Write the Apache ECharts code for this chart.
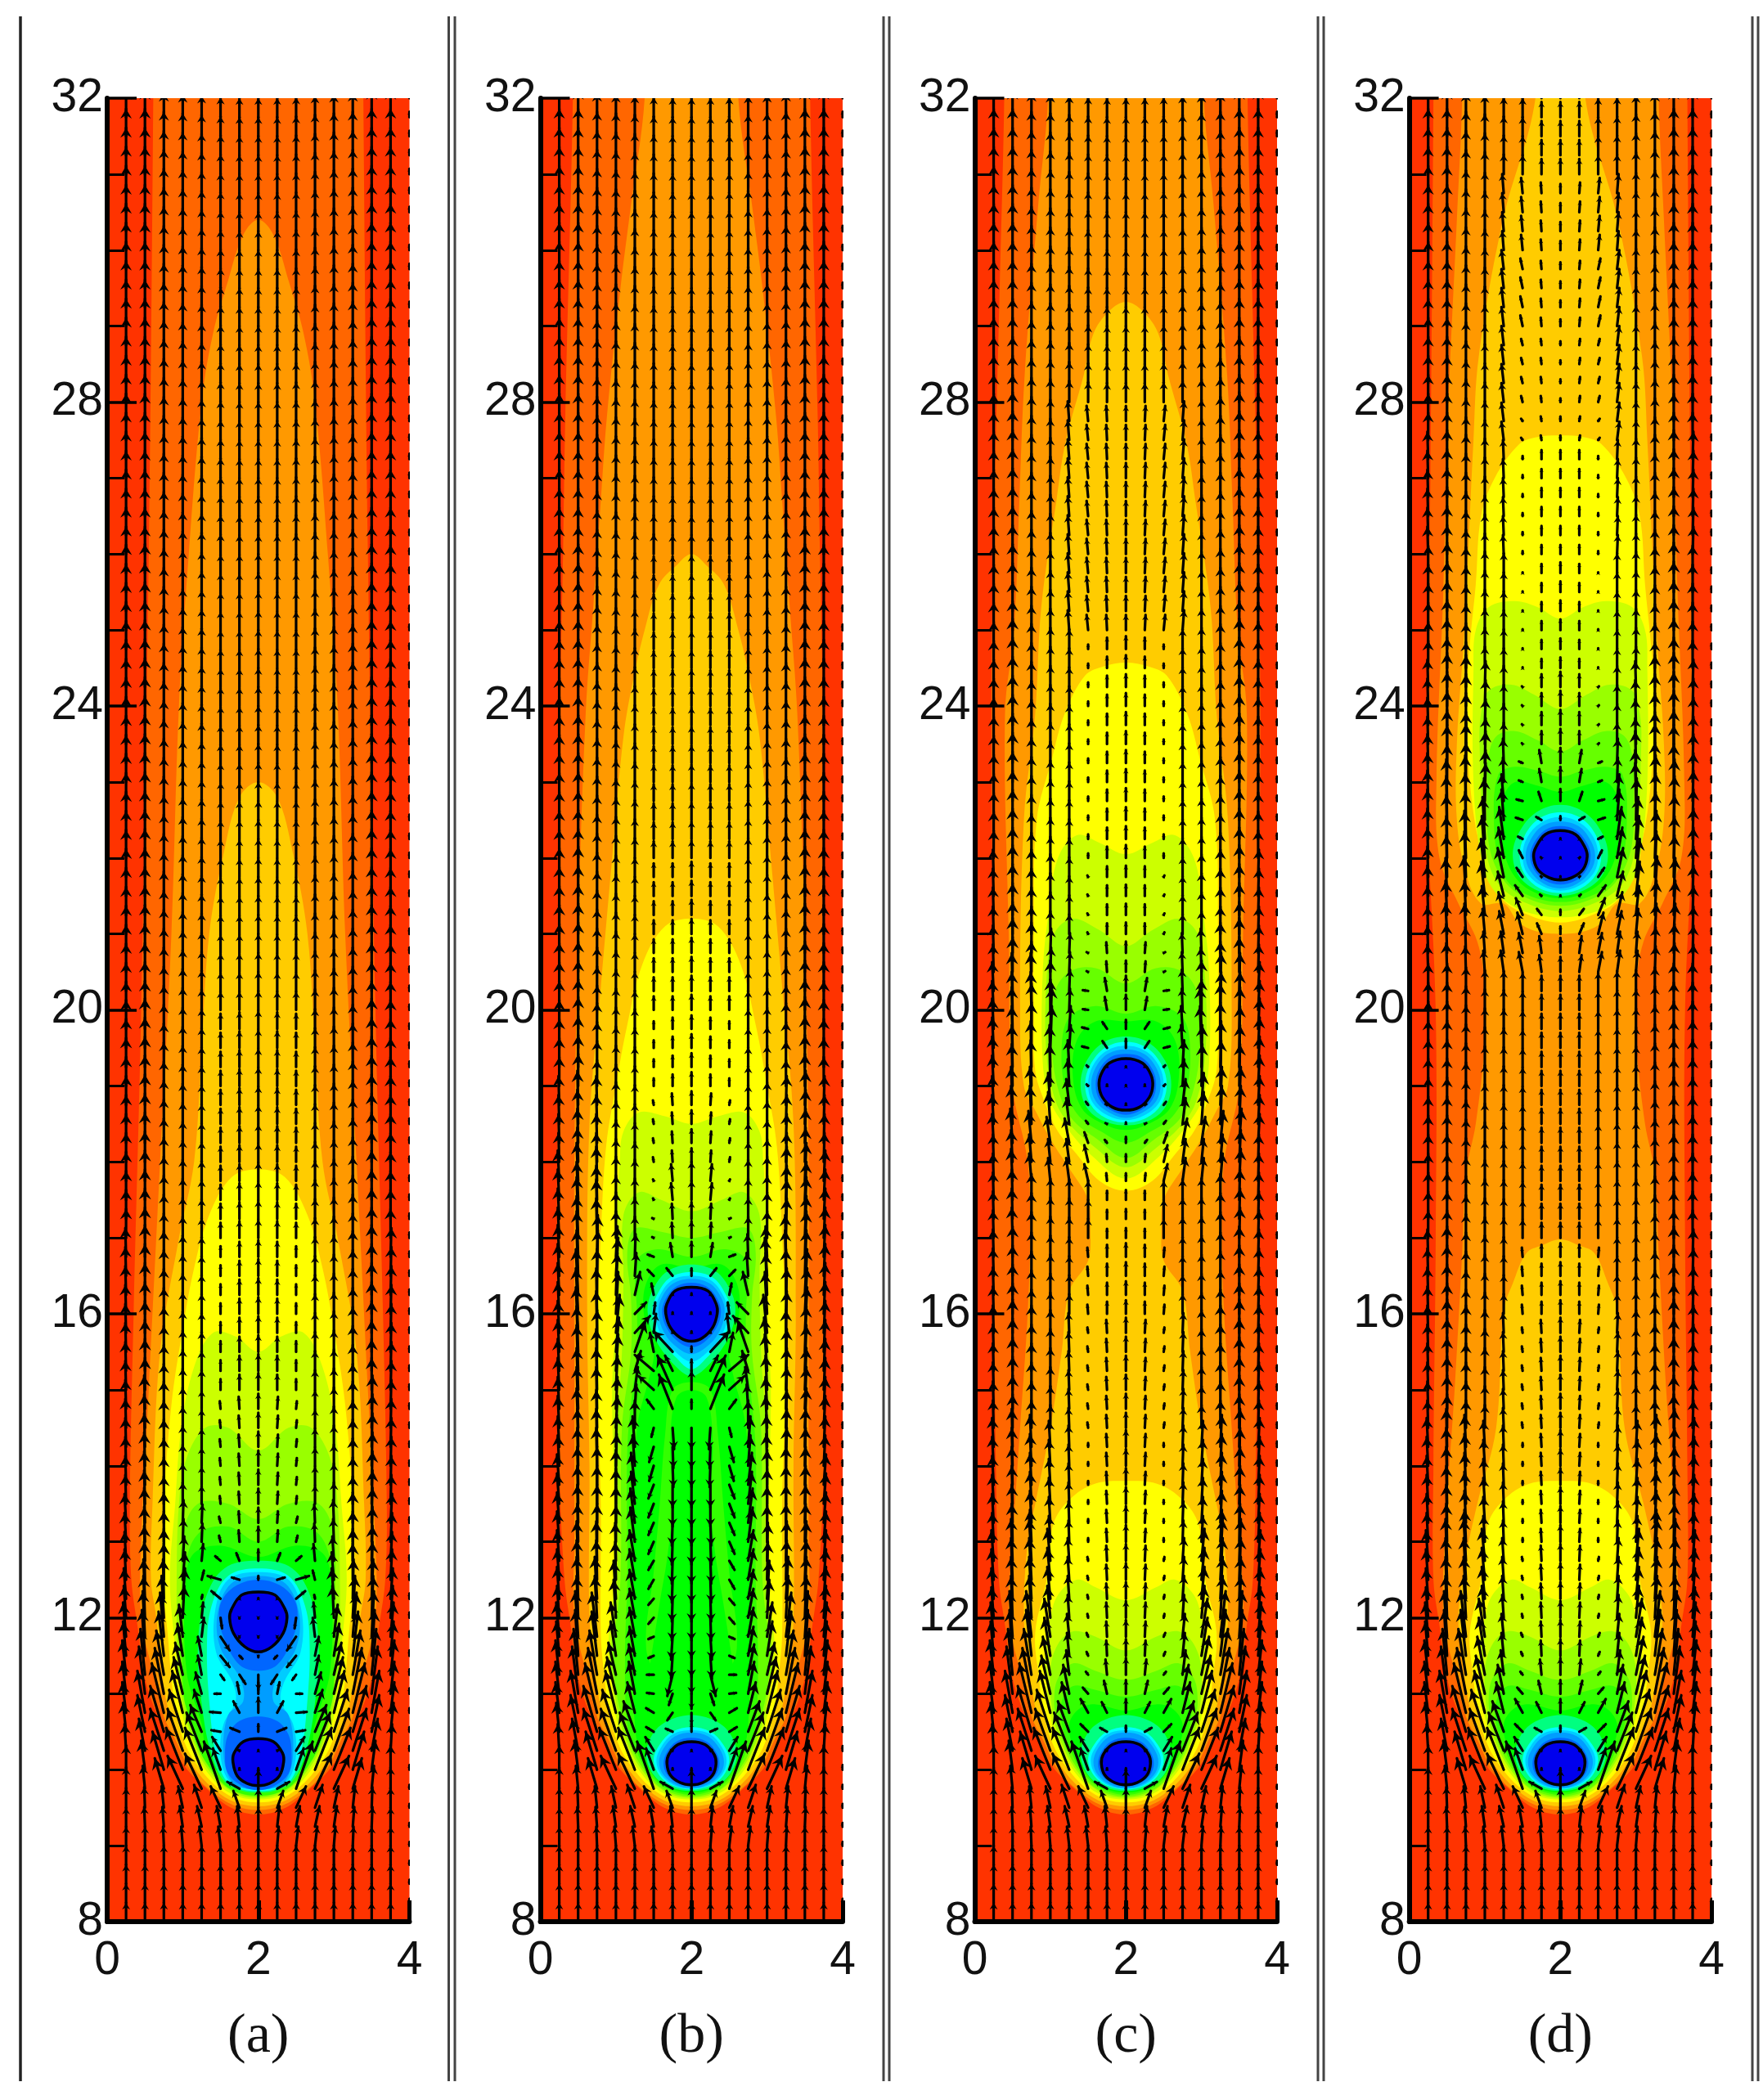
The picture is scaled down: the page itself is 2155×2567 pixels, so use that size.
<!DOCTYPE html>
<html><head><meta charset="utf-8"><style>html,body{margin:0;padding:0;background:#fff}#c{width:2155px;height:2567px}</style>
<script src="https://cdn.jsdelivr.net/npm/echarts@6/dist/echarts.min.js"></script></head><body><div id="c"></div>
<script>
const levelColors=['#ff3300','#ff6600','#ff9900','#ffcc00','#ffff00','#ccff00','#99ff00','#66ff00','#33ff00','#00ff00','#00ff80','#00ffff','#009dff','#0066ff','#0000ee','#00ccff'];
const panelLabels=['(a)','(b)','(c)','(d)'];
const xTicks=[0,2,4];
const yTicks=[8,12,16,20,24,28,32];
// Contour outlines: right half as dx from the centreline, y  (flat pairs, top centre to bottom centre)
const tail1=[1.68,12.5,1.6,11.9,1.5,11.2,1.33,10.7,1.2,10.46,.98,10.05,.65,9.72,.36,9.5,0,9.41];
const tail2=[1.55,12,1.4,11.3,1.25,10.7,1.1,10.4,.9,10,.6,9.7,.32,9.53,0,9.47];
const tail3=[1.35,12,1.28,11.3,1.17,10.7,1.03,10.35,.83,10,.56,9.72,.3,9.57,0,9.52];
const tail4=[1.2,11.8,1.15,11.2,1.08,10.7,.95,10.3,.76,10,.52,9.75,.27,9.61,0,9.57];
const tail5=[1.1,11.6,1.05,11.1,1,10.7,.88,10.3,.7,10,.48,9.76,.25,9.64,0,9.61];
const tail6=[1.07,11.5,1.03,11.1,.96,10.7,.83,10.3,.66,10,.45,9.78,.23,9.66,0,9.63];
const tail7=[1.04,11.5,.99,11,.92,10.7,.8,10.3,.63,10,.43,9.78,.22,9.68,0,9.65];
const tail8=[.85,10.6,.75,10.3,.6,10,.41,9.8,.2,9.7,0,9.67];
const tail9=[.75,10.6,.7,10.3,.56,10,.38,9.8,.18,9.72,0,9.7];
const lowYellow=[0,13.8,.45,13.75,.8,13.5,.97,13.2,1.05,12.5,...tail4];
const low5=[0,12.23,.4,12.4,.65,12.5,.9,12.3,1,12,1.07,11.6,1.05,11.1,1,10.7,.88,10.3,.7,10,.48,9.76,.25,9.64,0,9.61];
const low6=[0,11.57,.4,11.75,.7,11.82,.9,11.65,1,11.3,.96,10.7,.83,10.3,.66,10,.45,9.78,.23,9.66,0,9.63];
const low7=[0,11.18,.4,11.3,.7,11.4,.9,11.2,.95,10.9,.92,10.7,.8,10.3,.63,10,.43,9.78,.22,9.68,0,9.65];
const low8=[0,10.96,.4,11.05,.7,11.1,.85,10.9,...tail8];
const low9=[0,10.78,.4,10.86,.62,10.8,.75,10.6,.7,10.3,.56,10,.38,9.8,.18,9.72,0,9.7];
const lowMint=[0,10.72,.3,10.65,.5,10.49,.6,10.2,.5,9.93,.3,9.78,0,9.72];
const lowCyan=[0,10.56,.25,10.5,.42,10.33,.5,10.13,.42,9.92,.25,9.79,0,9.74];
const lowSky=[0,10.52,.24,10.47,.4,10.3,.465,10.12,.4,9.93,.22,9.79,0,9.75];
const lowBlue2=[0,10.49,.22,10.44,.37,10.28,.43,10.1,.37,9.93,.2,9.8,0,9.76];
const lowBlue1=[0,10.42,.2,10.37,.32,10.24,.37,10.08,.32,9.93,.18,9.82,0,9.78];
const lowCore=[0,10.37,.18,10.33,.3,10.2,.325,10.08,.28,9.93,.15,9.83,0,9.8];
const lowHalo=[[10,lowMint],[11,lowCyan],[15,lowSky],[12,lowBlue2],[13,lowBlue1],[14,lowCore]];

const bandsA=[
[1,[0,34,1.38,34,1.39,32,1.45,26,1.55,20,1.65,16,1.7,13.5,...tail1]],
[2,[0,30.4,.2,30.2,.4,29.6,.6,28.9,.75,28,.92,26,1.05,24,1.15,21,1.3,18,1.45,15,1.55,13,...tail2]],
[3,[0,23,.25,22.8,.45,22.1,.65,21,.75,19.5,.85,18,1.05,17,1.3,15.5,1.4,13.5,1.42,12.5,...tail3]],
[4,[0,17.9,.35,17.8,.65,17.3,.85,16.6,1,15.8,1.15,14.8,1.25,13.5,1.27,12.5,...tail4]],
[5,[0,15.5,.3,15.7,.6,15.75,.85,15.3,1.02,14.5,1.1,13.5,1.17,12.5,...tail5]],
[6,[0,14.2,.4,14.5,.7,14.5,.95,14.1,1.05,13.5,1.08,12.5,...tail6]],
[7,[0,13.3,.4,13.5,.8,13.5,1,13.1,1.02,12.4,...tail7]],
[8,[0,13,.4,13.2,.8,13.1,.98,12.6,1,11.8,.99,11,.92,10.7,.8,10.3,.62,10,.42,9.78,.2,9.68,0,9.66]],
[9,[0,12.8,.5,12.95,.85,12.85,.96,12.5,.95,11.3,...tail9]],
[10,[0,12.75,.45,12.65,.7,12.25,.8,11.6,.74,10.8,.62,10.2,.45,9.85,.2,9.72,0,9.7]],
[11,[0,12.65,.4,12.55,.62,12.15,.68,11.6,.64,10.8,.56,10.2,.42,9.85,.2,9.74,0,9.72]],
[15,[0,12.6,.4,12.5,.57,12.1,.56,11.55,.34,11.15,.3,10.9,.46,10.6,.5,10.2,.4,9.87,.2,9.76,0,9.74]],
[12,[0,12.55,.36,12.45,.54,12.05,.5,11.6,.24,11.2,.2,10.9,.4,10.72,.46,10.2,.36,9.85,.2,9.76,0,9.74]],
[13,[0,12.5,.28,12.43,.47,12.25,.52,12.02,.45,11.72,.25,11.38,0,11.3]],
[13,[0,10.7,.25,10.64,.4,10.46,.44,10.2,.4,9.95,.2,9.78,0,9.73]],
[14,[0,12.34,.22,12.3,.35,12.12,.38,12,.33,11.8,.18,11.62,0,11.55]],
[14,[0,10.41,.2,10.37,.32,10.22,.335,10.1,.28,9.92,.15,9.82,0,9.79]]
];
const bandsB=[
[1,[0,34,1.56,34,1.57,32,1.67,27.8,1.7,26,1.74,23.9,1.76,20,1.78,17,1.75,14,...tail1]],
[2,[0,34,.58,34,.62,32,.8,30.6,.94,29.5,1.12,27.8,1.2,26.7,1.3,25.3,1.4,23.9,1.5,21,1.55,18,1.55,15,1.55,13,...tail2]],
[3,[0,26,.2,25.85,.43,25.6,.62,25,.76,24.4,.9,23.6,1.05,22,1.2,20.3,1.35,18.5,1.38,16,1.35,14,...tail3]],
[4,[0,21.2,.35,21.1,.65,20.6,.85,19.8,1,19,1.13,18.2,1.2,17,1.25,15.5,1.2,13.5,...tail4]],
[5,[0,18.5,.35,18.6,.7,18.65,.9,18.4,.95,18,1,17,1,16,1.05,15,1.02,13.5,1.02,12.5,...tail5]],
[6,[0,17.35,.4,17.5,.7,17.6,.9,17.3,.9,16.5,.92,15.5,.98,14.5,.98,12.5,...tail6]],
[7,[0,17,.4,17.08,.75,17.12,.85,16.8,.8,16.2,.8,15.5,.92,14.5,.94,12.5,...tail7]],
[8,[0,16.75,.45,16.85,.72,16.7,.72,16,.72,15.4,.78,15,.85,14.2,.85,12.5,.88,11.5,...tail8]],
[9,[0,16.6,.4,16.65,.6,16.4,.63,16,.5,15.5,.55,15.2,.72,14.5,.78,13,.78,11.5,...tail9]],
[8,[0,15.1,.25,15,.35,14.4,.42,13.5,.5,12.6,.6,11.6,.4,11.2,0,11]],
[9,[0,15,.2,14.9,.28,14.3,.25,13.5,.32,12.8,.42,12.2,.6,11,.62,10.6,.58,10.2,.48,9.95,.33,9.8,.15,9.73,0,9.72]],
[10,lowMint],
[10,[0,16.65,.32,16.56,.52,16.3,.58,16.02,.47,15.65,.2,15.3,0,15.18]],
[11,[0,16.55,.28,16.48,.45,16.26,.52,16.02,.43,15.7,.2,15.42,0,15.27]],
[15,[0,16.5,.26,16.44,.42,16.24,.48,16.02,.4,15.72,.18,15.47,0,15.37]],
[12,[0,16.46,.24,16.4,.39,16.22,.44,16.02,.36,15.75,.18,15.55,0,15.47]],
[13,[0,16.41,.2,16.36,.34,16.2,.39,16.02,.32,15.8,.16,15.62,0,15.56]],
[14,[0,16.35,.22,16.3,.33,16.12,.34,16,.28,15.82,.14,15.68,0,15.64]],
[11,lowCyan],[15,lowSky],[12,lowBlue2],[13,lowBlue1],[14,lowCore]
];
const bandsC=[
[1,[0,34,1.6,34,1.61,32,1.67,29.5,1.74,26.7,1.78,23.9,1.75,20,1.75,17.5,1.72,14,...tail1]],
[2,[0,34,1,34,1.03,32,1.16,30.6,1.34,28.35,1.41,26.7,1.48,25,1.6,23.9,1.55,21,1.5,19,1.3,18,1.27,17,1.3,16,1.4,14.5,1.5,13,...tail2]],
[3,[0,29.32,.22,29.2,.43,28.9,.56,28.35,.8,27.47,.92,26.7,1.12,25.3,1.2,23.9,1.35,22.5,1.4,20,1.35,19,1.19,18.66,.98,18.27,.74,17.9,.5,17.5,.47,17.1,.5,16.7,.75,16.3,.85,15.5,1,14.5,1.2,13.5,1.3,13,...tail3]],
[4,[0,24.57,.3,24.52,.54,24.4,.81,23.9,.98,23.3,1.18,22.5,1.22,21,1.22,20,1.2,19.2,1.08,18.8,.9,18.4,.65,18.1,.35,17.75,0,17.62]],
[5,[0,22.05,.35,22.2,.65,22.3,.9,22,1.02,21.3,1.1,20.5,1.1,19.3,1,18.8,.8,18.47,.45,18.08,0,17.78]],
[6,[0,20.84,.35,21.05,.7,21.2,.95,21,1.05,20.4,1.05,19.4,.93,18.8,.75,18.5,.42,18.2,0,17.93]],
[7,[0,20.35,.4,20.55,.75,20.5,.95,20.2,.98,19.5,.88,18.9,.7,18.55,.38,18.3,0,18.05]],
[8,[0,19.95,.4,20.05,.75,19.9,.85,19.5,.8,18.95,.62,18.6,.33,18.4,0,18.25]],
[9,[0,19.85,.4,19.85,.65,19.6,.7,19.1,.58,18.7,.3,18.5,0,18.42]],
[10,[0,19.65,.3,19.57,.52,19.33,.6,19.02,.52,18.72,.3,18.54,0,18.48]],
[11,[0,19.58,.28,19.5,.47,19.28,.54,19.02,.47,18.76,.27,18.58,0,18.52]],
[15,[0,19.53,.26,19.46,.44,19.26,.5,19.02,.44,18.78,.24,18.61,0,18.55]],
[12,[0,19.48,.24,19.42,.4,19.24,.46,19.02,.4,18.8,.22,18.65,0,18.58]],
[13,[0,19.42,.2,19.38,.35,19.22,.4,19.02,.35,18.82,.2,18.68,0,18.62]],
[14,[0,19.36,.22,19.3,.33,19.15,.355,19,.31,18.85,.18,18.72,0,18.68]],
[4,lowYellow],[5,low5],[6,low6],[7,low7],[8,low8],[9,low9],...lowHalo
];
const bandsD=[
[1,[0,34,1.67,34,1.68,32,1.72,27,1.77,23,1.65,20,1.65,17,1.68,14,...tail1]],
[2,[0,34,1.28,34,1.3,32,1.37,30.4,1.48,28,1.55,25.5,1.64,23,1.6,22,1.35,21.4,1.1,20.9,1,20.3,1,19.6,1.12,18.5,1.25,17.85,1.3,16.8,1.4,15,1.5,13.5,...tail2]],
[3,[0,34,.25,34,.33,32,.76,30.4,1.08,28.6,1.15,27.5,1.27,25,1.37,23.5,1.37,22.5,1.25,21.8,1.05,21.4,.75,21.4,.55,21.15,.3,21.03,0,21]],
[3,[0,16.98,.25,16.9,.45,16.8,.63,16.4,.75,16.05,.85,14.5,1.1,13.5,1.25,12.8,...tail3]],
[4,[0,27.56,.3,27.54,.54,27.45,.87,27,1.05,26.5,1.12,25.6,1.2,24.8,1.23,24.3,1.22,23.3,1.12,22.4,1,22,.8,21.5,.54,21.3,0,21.15]],
[5,[0,25.15,.3,25.3,.6,25.38,.95,25.3,1.12,25,1.15,24.5,1.15,23,1.05,22,.9,21.6,.6,21.35,.3,21.25,0,21.22]],
[6,[0,23.96,.35,24.15,.65,24.28,.95,24.2,1.05,23.9,1.07,23.5,1,22.2,.85,21.7,.55,21.45,0,21.3]],
[7,[0,23.4,.3,23.55,.6,23.67,.85,23.6,.96,23.3,.97,23,.95,22.2,.78,21.75,.5,21.5,0,21.37]],
[8,[0,23.07,.3,23.15,.6,23.2,.82,23.1,.88,22.5,.8,21.9,.6,21.6,0,21.42]],
[9,[0,22.87,.3,22.95,.6,23,.76,22.8,.78,22.6,.75,22.1,.6,21.75,.35,21.55,0,21.47]],
[10,[0,22.7,.32,22.6,.55,22.33,.63,22.03,.54,21.75,.3,21.57,0,21.5]],
[11,[0,22.6,.28,22.52,.47,22.3,.54,22.03,.47,21.78,.27,21.6,0,21.54]],
[15,[0,22.54,.26,22.46,.44,22.27,.5,22.03,.44,21.8,.24,21.63,0,21.57]],
[12,[0,22.48,.24,22.42,.4,22.23,.46,22.03,.4,21.83,.22,21.66,0,21.6]],
[13,[0,22.42,.2,22.37,.35,22.2,.4,22.03,.35,21.85,.2,21.7,0,21.65]],
[14,[0,22.36,.2,22.31,.32,22.15,.355,22.02,.3,21.85,.15,21.74,0,21.71]],
[4,lowYellow],[5,low5],[6,low6],[7,low7],[8,low8],[9,low9],...lowHalo
];
const bandSets=[bandsA,bandsB,bandsC,bandsD];

// Velocity table read from the arrows, in hundredths of an axis unit:
// [row start y, upward length for columns x=0,.25,...,2, outward length for the same columns]
const straight=[0,0,0,0,0,0,0,0,0];
const farTop=[7,36,36,32,30,28,26,25,25];
const tailRows=[
[8,[5,25,25,25,25,25,25,25,25],straight],
[9,[5,25,25,25,25,25,25,25,25],[0,0,0,1,2,3,3,2,0]],
[9.25,[5,25,26,26,27,27,27,27,25],[0,0,1,2,4,6,5,3,0]],
[9.5,[5,26,27,28,28,30,28,22,25],[0,0,1,3,6,10,13,8,0]],
[9.75,[5,28,30,40,43,46,62,9,25],[0,0,3,12,20,22,22,16,0]],
[10,[6,32,38,50,55,55,28,2,2],[0,0,5,15,22,22,10,0,0]],
[10.25,[6,35,42,55,55,50,18,1,1],[0,2,8,18,20,20,11,2,0]]];
const lowRows=[
[10.5,[6,38,48,60,55,40,10,5,8],[0,4,10,18,18,15,10,9,0]],
[10.75,[6,40,55,65,55,40,18,14,18],[0,5,10,16,14,10,10,7,0]],
[11,[7,42,62,60,50,38,8,17,18],[0,5,8,12,12,8,7,4,0]],
[11.25,[7,45,60,60,50,32,4,20,22],[0,5,6,10,10,4,3,2,0]],
[11.5,[7,45,60,60,50,30,5,20,22],[0,4,4,7,8,3,2,1,0]],
[12,[7,40,55,55,42,30,5,20,22],[0,3,2,3,4,2,1,1,0]],
[13,[7,38,50,42,34,28,5,17,22],[0,2,1,2,2,1,0,1,0]],
[14.5,[7,36,44,36,30,26,7,17,20],[0,1,0,0,0,1,1,1,0]],
[16,[7,36,40,32,28,26,12,16,18],[0,1,0,0,0,0,1,0,0]]];
const rowsA=[...tailRows,
[10.5,[6,38,48,60,55,35,2,5,10],[0,4,10,18,18,15,12,12,0]],
[10.75,[6,40,55,65,55,30,1,15,20],[0,5,10,16,14,10,14,8,0]],
[11,[7,42,62,60,48,28,0,15,15],[0,5,8,12,12,8,8,3,0]],
[11.25,[7,45,60,58,42,25,-7,-12,-20],[0,5,6,10,10,5,-5,-8,0]],
[11.5,[7,45,60,58,42,25,-15,-4,-2],[0,4,4,7,7,5,-12,-4,0]],
[11.75,[7,45,60,58,42,25,-18,-1,-1],[0,4,3,5,5,-3,-12,0,0]],
[12,[7,42,55,55,42,20,-14,-1,-1],[0,3,2,3,-2,-2,-2,0,0]],
[12.25,[7,40,52,52,40,5,10,1,1],[0,3,2,1,-3,-1,12,0,0]],
[12.5,[7,40,50,48,36,12,5,3,5],[0,2,1,0,-3,-3,17,10,0]],
[12.75,[7,38,46,42,32,22,6,10,15],[0,2,1,0,-2,-2,7,4,0]],
[13,[7,38,46,40,30,24,8,15,20],[0,2,1,0,-1,-1,2,1,0]],
[13.5,[7,38,44,36,28,24,10,16,20],[0,1,1,0,0,0,1,1,0]],
[15,[7,38,42,34,28,26,14,20,22],[0,1,0,0,0,0,0,0,0]],
[17,[7,38,40,32,28,26,20,22,24],straight],
[20,[7,37,38,32,29,27,24,24,25],straight],
[26,farTop,straight]];
const rowsB=[...tailRows,
[10.5,[6,38,48,60,55,40,6,4,10],[0,4,10,18,18,15,10,9,0]],
[10.75,[6,40,55,65,55,40,6,-10,-15],[0,5,10,16,14,10,10,7,0]],
[11,[7,42,62,60,48,42,1,-15,-20],[0,5,8,12,12,8,9,5,0]],
[11.25,[7,45,60,58,42,40,0,-28,-25],[0,5,6,10,10,8,9,7,0]],
[11.5,[7,45,60,58,45,38,-3,-30,-28],[0,4,4,7,7,7,7,2,0]],
[12,[7,42,55,55,50,38,-8,-30,-30],[0,3,2,3,3,7,7,1,0]],
[12.5,[7,40,52,52,50,40,-12,-30,-30],[0,3,2,1,1,7,7,1,0]],
[13,[7,40,50,50,48,45,-16,-30,-30],[0,3,1,0,0,6,7,1,0]],
[13.5,[7,40,50,50,46,42,-18,-30,-30],[0,3,1,0,0,5,7,0,0]],
[14,[7,40,50,50,42,40,-20,-28,-28],[0,2,1,1,-1,3,6,-1,0]],
[14.5,[7,42,52,50,42,36,-12,-28,-28],[0,2,2,1,-2,0,3,-2,0]],
[14.75,[7,42,55,55,42,32,12,45,12],[0,2,2,1,-2,-2,9,18,0]],
[15,[7,42,55,55,45,30,18,45,25],[0,2,2,1,-2,-4,20,20,0]],
[15.25,[7,42,60,55,48,26,21,20,15],[0,2,2,1,-3,-8,25,10,0]],
[15.5,[7,42,60,55,45,40,25,27,7],[0,2,2,0,-4,-14,5,25,0]],
[15.75,[7,42,60,55,50,22,25,2,2],[0,2,3,1,-5,-20,-3,0,0]],
[16,[7,42,60,60,55,15,15,2,2],[0,2,3,1,-3,-15,-2,0,0]],
[16.25,[7,42,60,60,55,30,15,2,2],[0,2,3,0,-2,-7,3,0,0]],
[16.5,[7,42,60,60,50,30,8,10,10],[0,2,2,-1,-3,-2,8,8,0]],
[16.75,[7,42,60,55,40,30,3,18,20],[0,2,2,-1,-2,-1,8,3,0]],
[17,[7,40,55,52,35,28,1,20,22],[0,2,2,1,0,0,2,1,0]],
[17.5,[7,40,50,45,32,28,2,22,25],[0,2,2,1,0,0,1,2,0]],
[18,[7,38,45,38,30,26,6,15,18],[0,1,1,1,0,0,1,1,0]],
[19,[7,38,42,34,28,26,10,15,18],straight],
[20,[7,38,40,32,28,25,18,18,20],straight],
[22,[7,37,38,32,29,26,22,22,23],straight],
[26,farTop,straight]];
const rowsC=[...tailRows,...lowRows,
[17,[7,36,40,34,28,27,25,12,13],[0,1,1,0,0,0,0,0,0]],
[17.75,[7,36,42,36,30,30,22,10,10],[0,1,2,3,3,4,5,1,0]],
[18.25,[7,38,45,42,34,32,14,4,8],[0,2,3,4,5,6,5,3,0]],
[18.5,[7,38,50,50,42,34,4,1,2],[0,2,2,2,3,4,3,2,0]],
[19,[7,40,55,60,55,35,2,2,1],[0,2,1,1,1,2,2,0,0]],
[19.5,[7,40,55,60,55,30,2,9,12],[0,2,1,0,-2,-2,8,6,0]],
[20,[7,38,50,50,40,28,1,17,20],[0,2,1,1,0,-1,7,3,0]],
[20.5,[7,36,46,40,32,26,1,14,15],[0,1,0,0,-1,-1,2,1,0]],
[21,[7,36,42,36,30,26,2,14,15],[0,1,0,0,0,0,1,0,0]],
[22,[7,36,40,33,28,26,6,15,17],straight],
[25,[7,36,38,32,28,26,20,20,20],[0,0,0,0,0,2,2,1,0]],
[28,farTop,straight]];
const rowsD=[...tailRows,...lowRows,
[17,[7,36,36,31,27,26,24,20,20],straight],
[20.5,[7,36,38,34,28,28,26,22,20],[0,1,1,1,2,4,5,3,0]],
[21,[7,36,40,40,33,30,28,14,10],[0,1,2,2,3,6,7,6,0]],
[21.25,[7,38,45,45,38,30,22,8,7],[0,1,2,2,4,7,9,6,0]],
[21.5,[7,40,50,52,45,32,14,2,1],[0,1,2,3,5,8,10,2,0]],
[21.75,[7,40,55,60,50,38,12,1,1],[0,1,1,2,5,8,8,1,0]],
[22,[7,40,55,62,55,40,10,1,1],[0,1,1,2,4,7,5,1,0]],
[22.25,[7,40,58,62,55,42,3,1,1],[0,1,1,1,3,6,6,0,0]],
[22.5,[7,40,58,62,55,40,3,4,5],[0,1,1,1,1,3,9,7,0]],
[22.75,[7,40,55,60,50,35,2,12,16],[0,1,1,1,-1,3,8,4,0]],
[23,[7,38,50,52,42,32,2,17,20],[0,1,0,0,-1,1,5,3,0]],
[23.5,[7,36,45,42,34,28,1,17,20],[0,1,0,0,-1,0,1,0,0]],
[24.5,[7,36,40,34,28,26,1,12,14],straight],
[26,[7,36,38,32,27,25,4,12,12],[0,1,0,0,0,1,0,0,0]],
[27.5,[7,36,36,30,26,24,3,6,6],[0,0,0,0,0,3,2,1,0]],
[28,[7,36,36,30,26,25,8,8,5],[0,0,0,0,0,3,2,1,0]],
[29,[7,36,36,30,27,25,14,11,9],[0,0,0,0,0,3,3,1,0]],
[30,[7,36,36,30,27,25,20,14,12],[0,0,0,0,0,2,2,1,0]],
[31,[7,36,36,32,29,26,25,20,20],straight]];
const rowSets=[rowsA,rowsB,rowsC,rowsD];

const gridLefts=[131,660.5,1191.5,1722.6];
const GRID_W=369.5,GRID_TOP=120,GRID_H=2229;
const arrowColumns=17,arrowRows=97,arrowStep=.25;

function arrowData(rows){
  const out=[];
  for(let j=0;j<arrowRows;j++){
    const y=8+j*arrowStep;
    let r=rows[0];
    for(const c of rows){if(c[0]<=y)r=c;}
    for(let i=0;i<arrowColumns;i++){
      const k=i<=8?i:16-i;
      const side=i<8?-1:i>8?1:0;
      out.push([i*arrowStep,y,side*r[2][k]/100,r[1][k]/100]);
    }
  }
  return out;
}
function polyPoints(api,flat){
  const right=[],left=[];
  for(let i=0;i<flat.length;i+=2){
    right.push(api.coord([2+flat[i],flat[i+1]]));
    if(flat[i]!==0)left.unshift(api.coord([2-flat[i],flat[i+1]]));
  }
  return right.concat(left);
}
const renderBand=set=>(params,api)=>{
  const b=set[params.dataIndex];
  const isCore=b[0]===14;
  return {type:'polygon',shape:{points:polyPoints(api,b[1]),smooth:.36},
    style:{fill:levelColors[b[0]],stroke:isCore?'#000':null,lineWidth:isCore?3.5:0}};
};
function renderArrow(params,api){
  const p=api.coord([api.value(0),api.value(1)]);
  const q=api.coord([api.value(0)+api.value(2),api.value(1)+api.value(3)]);
  const dx=q[0]-p[0],dy=q[1]-p[1],L=Math.hypot(dx,dy)||1;
  const ux=dx/L,uy=dy/L,hl=Math.min(Math.max(.36*L,3.5),14),hw=Math.min(Math.max(.21*L,2.6),7.5);
  const bx=q[0]-ux*hl,by=q[1]-uy*hl,nx=q[0]-ux*hl*.65,ny=q[1]-uy*hl*.65;
  return {type:'group',children:[
    {type:'line',shape:{x1:p[0],y1:p[1],x2:q[0],y2:q[1]},style:{stroke:'#000',lineWidth:3.2,lineCap:'round'}},
    {type:'polygon',shape:{points:[q,[bx-uy*hw,by+ux*hw],[nx,ny],[bx+uy*hw,by-ux*hw]]},style:{fill:'#000'}}
  ]};
}
const grids=[],xAxes=[],yAxes=[],series=[];
const labelStyle={fontFamily:'Liberation Sans',fontSize:57,color:'#111'};
gridLefts.forEach((left,i)=>{
  grids.push({left,top:GRID_TOP,width:GRID_W,height:GRID_H,show:true,backgroundColor:levelColors[0],borderWidth:0});
  xAxes.push({gridIndex:i,type:'value',min:xTicks[0],max:xTicks[2],interval:2,z:10,splitLine:{show:false},
    name:panelLabels[i],nameLocation:'middle',nameGap:107,nameTextStyle:{fontFamily:'Liberation Serif',fontSize:68,color:'#111'},
    axisLine:{show:true,onZero:false,lineStyle:{color:'#000',width:6}},
    axisTick:{inside:true,length:26,lineStyle:{color:'#000',width:5}},
    axisLabel:Object.assign({margin:20,hideOverlap:false},labelStyle)});
  yAxes.push({gridIndex:i,type:'value',min:yTicks[0],max:yTicks[yTicks.length-1],interval:4,z:10,splitLine:{show:false},
    axisLine:{show:true,onZero:false,lineStyle:{color:'#000',width:6}},
    axisTick:{inside:true,length:36,lineStyle:{color:'#000',width:3.5}},
    minorTick:{show:true,splitNumber:4,length:21,lineStyle:{color:'#000',width:3}},
    axisLabel:Object.assign({margin:5,hideOverlap:false},labelStyle)});
  const set=bandSets[i];
  series.push({type:'custom',name:'contour '+panelLabels[i],xAxisIndex:i,yAxisIndex:i,clip:true,silent:true,z:2,
    data:set.map((b,k)=>[2,k]),encode:{x:0,y:1},renderItem:renderBand(set)});
  series.push({type:'custom',name:'velocity '+panelLabels[i],xAxisIndex:i,yAxisIndex:i,clip:true,silent:true,z:3,
    data:arrowData(rowSets[i]),encode:{x:0,y:1},renderItem:renderArrow});
});
const seps=[[25,3.5,'#222'],[548.5,3,'#444'],[556,3,'#444'],[1080,3,'#444'],[1087,3,'#444'],[1611,3,'#444'],[1618,3,'#444'],[2142,3,'#444'],[2149,3,'#444']];
const chart=echarts.init(document.getElementById('c'),null,{renderer:'canvas'});
chart.setOption({animation:false,backgroundColor:'#fff',tooltip:{show:false},grid:grids,xAxis:xAxes,yAxis:yAxes,series,
  graphic:seps.map(s=>({type:'line',z:20,shape:{x1:s[0],y1:20,x2:s[0],y2:2544},style:{stroke:s[2],lineWidth:s[1]}}))});
</script></body></html>
